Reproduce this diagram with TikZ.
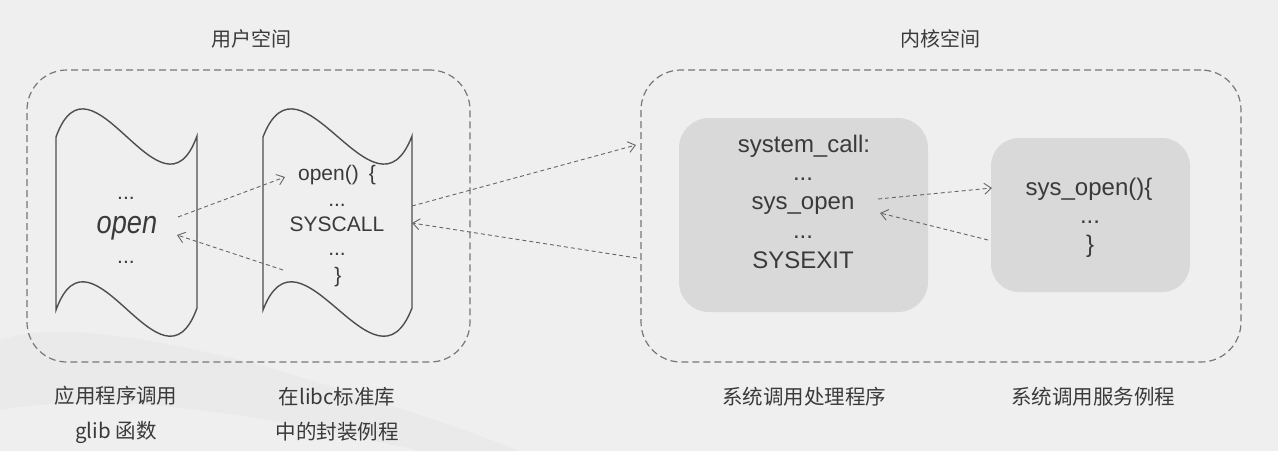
\documentclass[tikz,border=0pt]{standalone}
\usepackage{fontspec}
\setmainfont{Liberation Sans}
\newfontfamily\cjk{Noto Sans CJK SC}
\usetikzlibrary{arrows.meta}
\definecolor{bg}{HTML}{EFEFEF}
\definecolor{txt}{HTML}{3A3A3A}
\definecolor{boxfill}{HTML}{D9D9D9}
\definecolor{dashc}{HTML}{777777}
\definecolor{arrc}{HTML}{666666}
\definecolor{wash}{HTML}{E6E6E6}
\tikzset{
  spacebox/.style={draw=dashc, line width=1.2pt, dash pattern=on 7pt off 4pt, rounded corners=40pt, inner sep=0pt},
  kbox/.style={fill=boxfill, draw=none, rounded corners=30pt, inner sep=0pt},
  tapeline/.style={draw=txt!90, line width=1.4pt},
  usertxt/.style={text=txt, font=\fontsize{21}{25}\selectfont, anchor=base, inner sep=0pt},
  kertxt/.style={text=txt, font=\fontsize{24}{29}\selectfont, anchor=base, inner sep=0pt},
  title/.style={text=txt, font=\cjk\fontsize{20}{24}\selectfont, inner sep=0pt},
  caption/.style={text=txt, font=\cjk\fontsize{20.5}{35}\selectfont, align=center, inner sep=0pt},
  callarrow/.style={draw=arrc, line width=0.9pt, dash pattern=on 4pt off 3pt,
    -{Straight Barb[length=7pt,width=11pt,line width=0.9pt]}},
}
\begin{document}
\begin{tikzpicture}[x=1pt,y=-1pt]
\fill[bg] (0,0) rectangle (1278,451);
\useasboundingbox (0,0) rectangle (1278,451);
% faint wash at bottom left
\fill[wash, opacity=0.5] (0,340) .. controls (60,320) and (160,340) .. (260,365)
  .. controls (360,395) and (440,420) .. (520,451) -- (0,451) -- cycle;
\fill[white, opacity=0.25] (0,410) .. controls (120,390) and (260,415) .. (420,451) -- (0,451) -- cycle;

% titles
\node[title] (tuser) at (251,39) {用户空间};
\node[title] (tkern) at (940,39) {内核空间};

% dashed space boxes
\node[spacebox, minimum width=443pt, minimum height=292pt] (user) at (248.5,216) {};
\node[spacebox, minimum width=600pt, minimum height=292pt] (kern) at (941,216) {};

% tape shapes
\draw[tapeline] (56,137) .. controls +(35.25,-97) and +(-35.25,97) .. (197,136)
  -- (197,308) .. controls +(-35.25,97) and +(35.25,-97) .. (56,310) -- cycle;
\draw[tapeline] (263,137) .. controls +(37.25,-97) and +(-37.25,97) .. (412,136)
  -- (412,308) .. controls +(-37.25,97) and +(37.25,-97) .. (263,310) -- cycle;

% kernel boxes
\node[kbox, minimum width=249pt, minimum height=194pt] (sc) at (803.5,215) {};
\node[kbox, minimum width=199pt, minimum height=154pt, rounded corners=28pt] (so) at (1090.5,215) {};

% app text
\node[usertxt] (a1) at (126,199) {...};
\node[usertxt, font=\fontsize{32}{36}\selectfont\itshape] (aopen) at (127,233) {\scalebox{0.85}[1]{open}};
\node[usertxt] (a2) at (126,263) {...};

% libc text
\node[usertxt] (l1) at (337,180) {open()\hspace{10pt}\{};
\node[usertxt] (l2) at (337,206) {...};
\node[usertxt] (l3) at (337,231) {SYSCALL};
\node[usertxt] (l4) at (337,255) {...};
\node[usertxt] (l5) at (338,282) {\}};

% system_call text
\node[kertxt] (s1) at (804,152) {system\_call:};
\node[kertxt] (s2) at (803,180) {...};
\node[kertxt] (s3) at (803,209) {sys\_open};
\node[kertxt] (s4) at (803,238) {...};
\node[kertxt] (s5) at (803,268) {SYSEXIT};

% sys_open text
\node[kertxt] (o1) at (1089,195) {sys\_open()\{};
\node[kertxt] (o2) at (1090,223) {...};
\node[kertxt] (o3) at (1090,252) {\}};

% captions
\node[caption] (c1) at (116,414.5) {应用程序调用\\glib 函数};
\node[caption] (c2) at (337,414.5) {在libc标准库\\中的封装例程};
\node[caption] (c3) at (804,397) {系统调用处理程序};
\node[caption] (c4) at (1093,397) {系统调用服务例程};

% arrow endpoints
\coordinate (p1s) at (178,217); \coordinate (p1e) at (285,177);
\coordinate (p2s) at (283,270); \coordinate (p2e) at (177,235);
\coordinate (p3s) at (412,206); \coordinate (p3e) at (636,145);
\coordinate (p4s) at (637,258); \coordinate (p4e) at (412,223);
\coordinate (p5s) at (878,199); \coordinate (p5e) at (992,188);
\coordinate (p6s) at (988,240); \coordinate (p6e) at (880,213);
\draw[callarrow] (p1s) -- (p1e);
\draw[callarrow] (p2s) -- (p2e);
\draw[callarrow] (p3s) -- (p3e);
\draw[callarrow] (p4s) -- (p4e);
\draw[callarrow] (p5s) -- (p5e);
\draw[callarrow] (p6s) -- (p6e);
\end{tikzpicture}
\end{document}
